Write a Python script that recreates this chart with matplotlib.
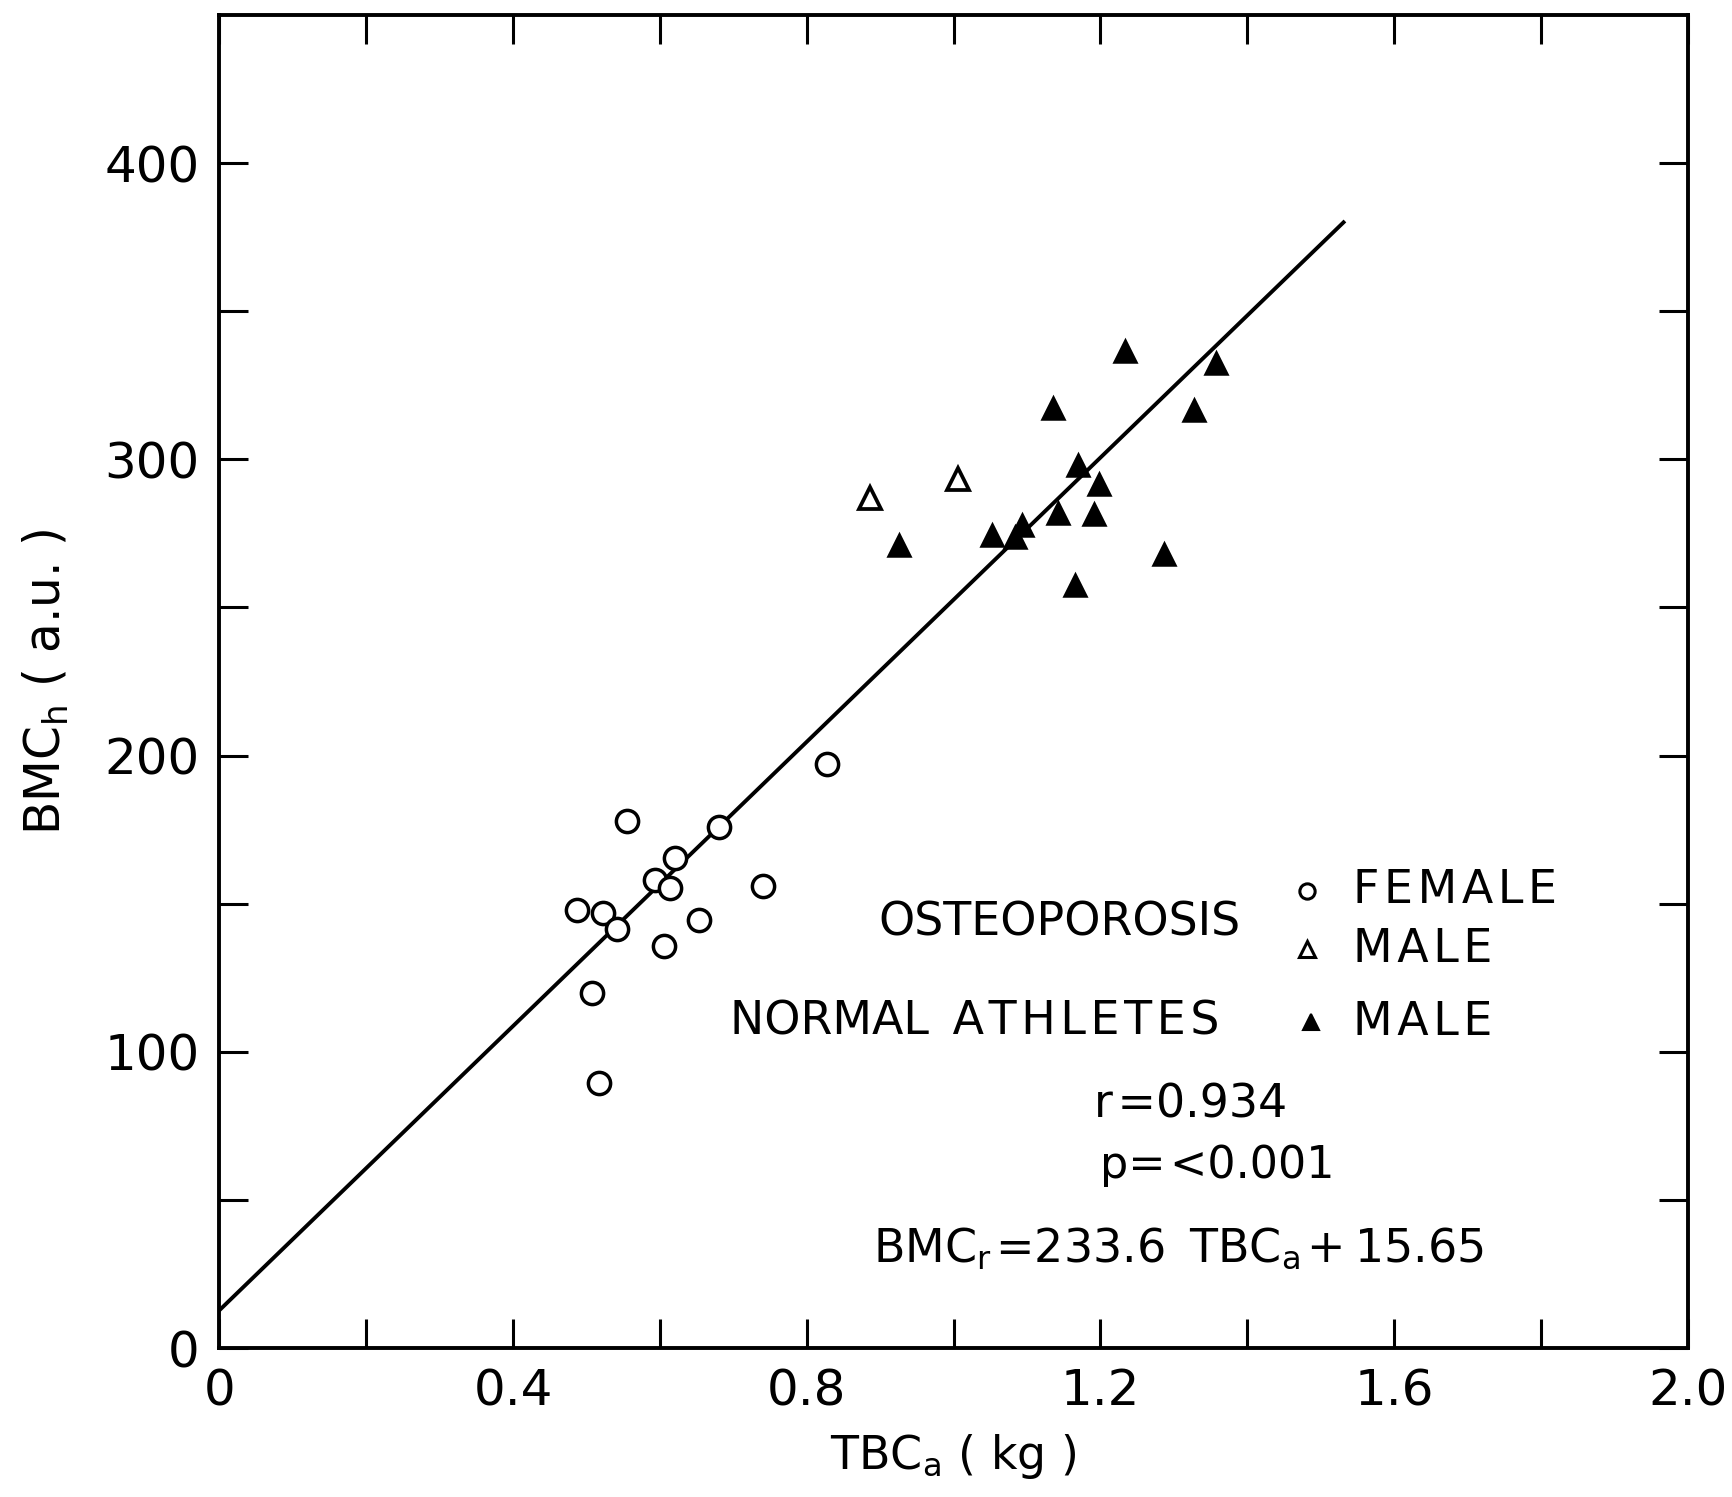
import matplotlib
matplotlib.use("Agg")
import matplotlib.pyplot as plt

# ---- data ----
female_x = [0.487, 0.523, 0.541, 0.508, 0.517, 0.555, 0.594, 0.614, 0.620, 0.606, 0.653, 0.680, 0.741, 0.827]
female_y = [147.9, 146.7, 141.5, 119.9, 89.4, 178.0, 157.9, 155.3, 165.4, 135.6, 144.5, 175.8, 156.0, 197.0]

osteo_male_x = [0.886, 1.006]
osteo_male_y = [286.8, 293.5]

athlete_x = [1.233, 1.358, 1.135, 1.327, 1.170, 1.198, 1.142, 1.191, 1.093, 1.052, 1.084, 0.926, 1.287, 1.165]
athlete_y = [336.4, 332.6, 317.3, 316.6, 298.0, 291.6, 281.9, 281.6, 277.8, 274.5, 273.7, 271.1, 268.2, 257.7]

fit_x = [0.0, 1.531]
fit_y = [12.7, 380.0]

x_ticks = [0, 0.2, 0.4, 0.6, 0.8, 1.0, 1.2, 1.4, 1.6, 1.8, 2.0]
x_labels = ["0", "", "0.4", "", "0.8", "", "1.2", "", "1.6", "", "2.0"]
y_ticks = [0, 50, 100, 150, 200, 250, 300, 350, 400]
y_labels = ["0", "", "100", "", "200", "", "300", "", "400"]

HS = "\u200a"  # hair space
TS = "\u2009"  # thin space

def spaced(word, sep=HS):
    return sep.join(word)

plt.rcParams['font.family'] = ['DejaVu Sans']
plt.rcParams['mathtext.default'] = 'regular'

fig = plt.figure(figsize=(17.33, 14.97), dpi=100)
ax = fig.add_axes([0.1265, 0.0995, 0.8475, 0.8905])

ax.plot(fit_x, fit_y, color='black', lw=2.8, zorder=2)
ax.plot(female_x, female_y, linestyle='none', marker='o', ms=16, mfc='white',
        mec='black', mew=2.5, zorder=3)
ax.plot(osteo_male_x, osteo_male_y, linestyle='none', marker='^', ms=16, mfc='white',
        mec='black', mew=2.7, zorder=3)
ax.plot(athlete_x, athlete_y, linestyle='none', marker='^', ms=16, mfc='black',
        mec='black', mew=1.8, zorder=3)

ax.set_xlim(0, 2.0)
ax.set_ylim(0, 450)
ax.set_xticks(x_ticks)
ax.set_xticklabels(x_labels)
ax.set_yticks(y_ticks)
ax.set_yticklabels(y_labels)
ax.tick_params(direction='in', length=21, width=2.2, top=True, right=True,
               labelsize=36, pad=14)
for s in ax.spines.values():
    s.set_linewidth(2.8)

ax.set_xlabel('TBC$_a$ ( kg )', fontsize=33, labelpad=12)
ax.set_ylabel('BMC$_h$ ( a.u. )', fontsize=35, labelpad=24)

fs = 33
ax.text(0.898, 143.4, 'OSTEOPOROSIS', fontsize=fs, va='center', ha='left')
ax.plot([1.481], [154.4], linestyle='none', marker='o', ms=11, mfc='white', mec='black', mew=2.2)
ax.text(1.544, 154.4, spaced('FEMALE'), fontsize=fs, va='center', ha='left')
ax.plot([1.481], [134.6], linestyle='none', marker='^', ms=11, mfc='white', mec='black', mew=2.2)
ax.text(1.544, 134.6, spaced('MALE'), fontsize=fs, va='center', ha='left')
ax.text(0.695, 109.9, 'NORMAL' + TS + ' ' + spaced('ATHLETES'), fontsize=fs, va='center', ha='left')
ax.plot([1.487], [109.9], linestyle='none', marker='^', ms=11, mfc='black', mec='black', mew=1.5)
ax.text(1.544, 109.9, spaced('MALE'), fontsize=fs, va='center', ha='left')
ax.text(1.191, 81.9, 'r' + HS + '=0.934', fontsize=fs, va='center', ha='left')
ax.text(1.199, 61.5, 'p=' + HS + '<0.001', fontsize=fs - 1, va='center', ha='left')
ax.text(0.890, 33.5, 'BMC$_r$' + HS + '=233.6 ' + TS + 'TBC$_a$' + HS + '+' + TS + '15.65',
        fontsize=fs, va='center', ha='left')

fig.savefig('out.png', dpi=100)
